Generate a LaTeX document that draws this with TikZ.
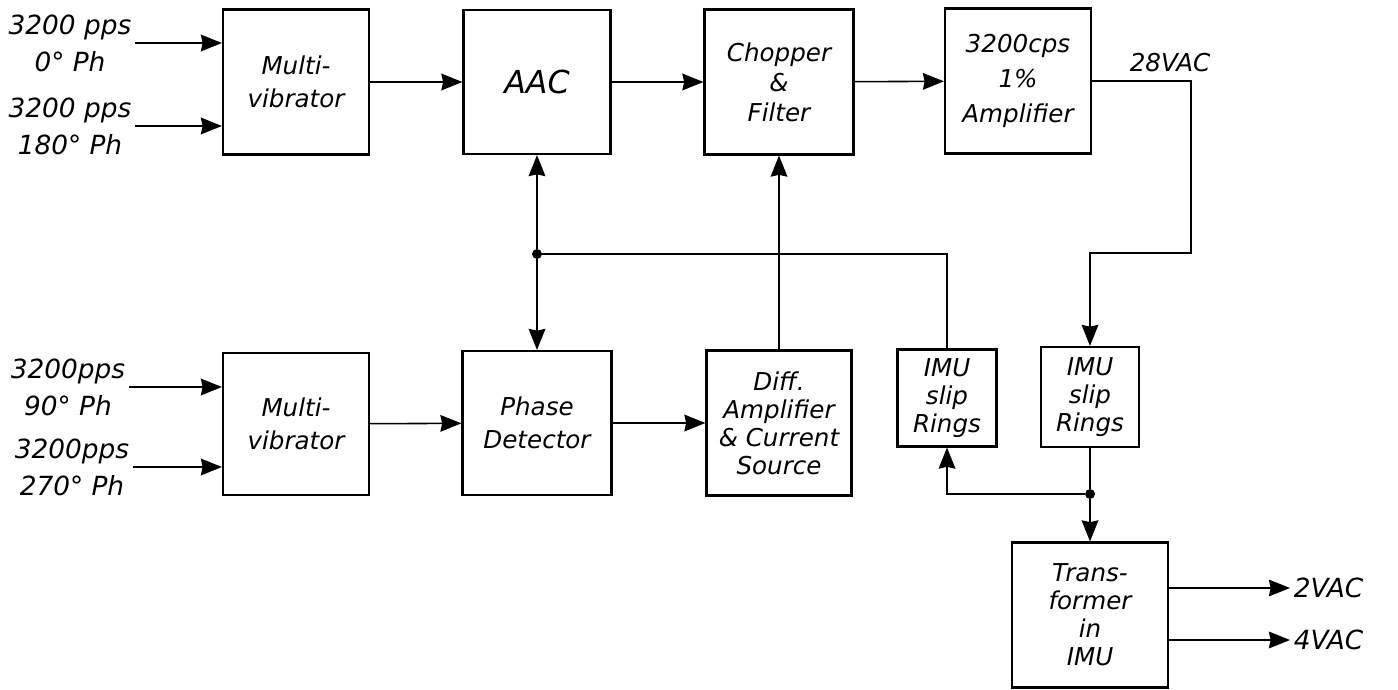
\documentclass[tikz,border=0pt]{standalone}
\usepackage{fontspec}
\setmainfont{DejaVu Sans}
\usetikzlibrary{arrows.meta}

\begin{document}
\begin{tikzpicture}[
            x=0.02cm,
            y=-0.02cm,
            blk/.style={draw, line width=1.2pt, align=center, inner sep=2pt, font=\fontsize{14}{16}\selectfont\itshape},
            lbl/.style={align=center, inner sep=2pt, font=\fontsize{15}{21}\selectfont\itshape},
            sig/.style={line width=0.9pt, -{Stealth[length=12pt, width=9.5pt, inset=1pt]}},
            wire/.style={line width=0.9pt},
            point/.style={circle, fill=black, inner sep=2pt}
        ]
        \useasboundingbox (0,0) rectangle (1398,689);

        \node[blk, minimum width=2.92cm, minimum height=2.9cm] (mv1) at (296,82) {Multi-\\[3pt]vibrator};
        \node[blk, minimum width=2.94cm, minimum height=2.88cm, font=\fontsize{18}{20}\selectfont\itshape] (aac) at (537,82) {AAC};
        \node[blk, minimum width=2.98cm, minimum height=2.9cm] (chop) at (779,82) {Chopper\\[1pt]\&\\[1pt]Filter};
        \node[blk, minimum width=2.92cm, minimum height=2.9cm] (amp) at (1018,81) {3200cps\\[4pt]1\%\\[4pt]Amplifier};
        \node[blk, minimum width=2.92cm, minimum height=2.84cm] (mv2) at (296,424) {Multi-\\[3pt]vibrator};
        \node[blk, minimum width=2.98cm, minimum height=2.88cm] (pd) at (537,423) {Phase\\[3pt]Detector};
        \node[blk, minimum width=2.9cm, minimum height=2.9cm] (diff) at (779,423) {Diff.\\Amplifier\\\& Current\\Source};
        \node[blk, minimum width=1.98cm, minimum height=1.94cm] (sr1) at (947,398) {IMU\\slip\\Rings};
        \node[blk, minimum width=1.96cm, minimum height=2cm] (sr2) at (1090,397) {IMU\\slip\\Rings};
        \node[blk, minimum width=3.12cm, minimum height=2.9cm] (tr) at (1090,615) {Trans-\\former\\in\\IMU};

        \node[lbl] (in1) at (70,43) {3200 pps\\0° Ph};
        \node[lbl] (in2) at (70,126) {3200 pps\\180° Ph};
        \node[lbl] (in3) at (68,387) {3200pps\\90° Ph};
        \node[lbl] (in4) at (72,467) {3200pps\\270° Ph};
        \node[lbl, font=\fontsize{14}{16}\selectfont\itshape] (v28) at (1170,63) {28VAC};
        \node[lbl, anchor=west] (o2) at (1290,588) {2VAC};
        \node[lbl, anchor=west] (o4) at (1290,640) {4VAC};

        \node[point] (j1) at (537,254) {};
        \node[point] (j2) at (1090,494) {};
        \coordinate (k1) at (1191,253);

        \draw[sig] (in1.east) -- (in1.east -| mv1.west);
        \draw[sig] (in2.east) -- (in2.east -| mv1.west);
        \draw[sig] (in3.east) -- (in3.east -| mv2.west);
        \draw[sig] (in4.east) -- (in4.east -| mv2.west);
        \draw[sig] (mv1) -- (aac);
        \draw[sig] (aac) -- (chop);
        \draw[sig] (chop) -- (amp);
        \draw[sig] (mv2) -- (pd);
        \draw[sig] (pd) -- (diff);
        \draw[sig] (diff) -- (chop);
        \draw[sig] (j1) -- (aac);
        \draw[sig] (j1) -- (pd);
        \draw[wire] (j1) -| (sr1.north);
        \draw[sig] (amp.east) -| (k1) -| (sr2.north);
        \draw[wire] (sr2) -- (j2);
        \draw[sig] (j2) -- (tr);
        \draw[sig] (j2) -| (sr1.south);
        \draw[sig] (tr.east |- o2) -- (o2.west);
        \draw[sig] (tr.east |- o4) -- (o4.west);
    \end{tikzpicture}
\end{document}
